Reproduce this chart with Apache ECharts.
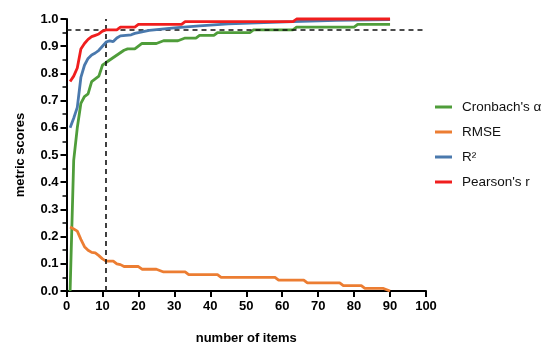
<!DOCTYPE html>
<html>
<head>
<meta charset="utf-8">
<script src="https://cdn.jsdelivr.net/npm/echarts@6/dist/echarts.min.js"></script>
<style>html,body{margin:0;padding:0;background:#fff;}#c{width:550px;height:354px;}</style>
</head>
<body>
<div id="c"></div>
<script>
// ---- data ----
const seriesNames = ["Cronbach's α", "RMSE", "R²", "Pearson's r"];

const alphaItems = [1,2,3,4,5,6,7,8,9,10,11,16,17,19,21,25,27,31,33,36,37,41,42,51,52,63,64,80,81,90];
const alphaVals  = [0.00,0.48,0.60,0.69,0.715,0.725,0.77,0.78,0.79,0.83,0.84,0.885,0.89,0.89,0.91,0.91,0.92,0.92,0.93,0.93,0.94,0.94,0.95,0.95,0.96,0.96,0.97,0.97,0.98,0.98];

const rmseItems = [1,2,3,4,5,6,7,8,9,10,11,12,13,14,15,16,20,21,25,27,33,34,42,43,58,59,66,67,76,77,82,83,88,90];
const rmseVals  = [0.235,0.228,0.22,0.19,0.163,0.15,0.142,0.14,0.13,0.118,0.11,0.11,0.11,0.10,0.097,0.09,0.09,0.08,0.08,0.07,0.07,0.06,0.06,0.05,0.05,0.04,0.04,0.03,0.03,0.02,0.02,0.01,0.01,0.00];

const r2Items = [1,2,3,4,5,6,7,8,9,10,11,12,13,14,15,18,19,21,23,30,37,45,55,63,75,90];
const r2Vals  = [0.60,0.635,0.675,0.785,0.83,0.855,0.868,0.875,0.885,0.90,0.915,0.92,0.917,0.93,0.938,0.942,0.947,0.953,0.958,0.967,0.975,0.982,0.987,0.99,0.995,0.998];

const pearsonItems = [1,2,3,4,5,6,7,8,9,10,11,14,15,19,20,32,33,63,64,90];
const pearsonVals  = [0.77,0.79,0.82,0.89,0.91,0.925,0.935,0.94,0.945,0.955,0.96,0.96,0.97,0.97,0.98,0.98,0.99,0.99,1.00,1.00];

const refItems = 11;     // vertical dashed reference
const refScore = 0.96;   // horizontal dashed reference

const xTicks = [0,100,10];      // min, max, interval
const yTicks = [0,1,0.1];

const colors = ['#4f9d3a', '#ec7d32', '#4a79ad', '#f01e1e'];

// ---- chart ----
const pairs = (xs, ys) => xs.map((x, i) => [x, ys[i]]);
const seriesData = [
  pairs(alphaItems, alphaVals),
  pairs(rmseItems, rmseVals),
  pairs(r2Items, r2Vals),
  pairs(pearsonItems, pearsonVals)
];

const font = 'Arial, "Liberation Sans", Helvetica, sans-serif';
const chart = echarts.init(document.getElementById('c'), null, {renderer: 'canvas'});

const series = seriesData.map((d, i) => ({
  name: seriesNames[i],
  type: 'line',
  data: d,
  showSymbol: false,
  symbol: 'none',
  clip: false,
  lineStyle: {width: 2.8, color: colors[i]},
  itemStyle: {color: colors[i]},
  z: 3 + i
}));

series.push({
  name: 'ref',
  type: 'line',
  data: [],
  silent: true,
  z: 2,
  markLine: {
    silent: true,
    symbol: 'none',
    label: {show: false},
    lineStyle: {color: '#111', type: [5, 4], width: 1.6},
    data: [{xAxis: refItems}, {yAxis: refScore}]
  }
});

chart.setOption({
  animation: false,
  backgroundColor: '#fff',
  color: colors,
  grid: {left: 66.5, right: 124, top: 19, bottom: 63, containLabel: false},
  legend: {
    data: seriesNames,
    orient: 'vertical',
    left: 430,
    top: 95,
    icon: 'rect',
    itemWidth: 17,
    itemHeight: 3,
    itemGap: 11,
    textStyle: {fontFamily: font, fontSize: 13.5, color: '#111', lineHeight: 14, padding: [0, 0, 0, 5]}
  },
  xAxis: {
    type: 'value',
    min: xTicks[0], max: xTicks[1], interval: xTicks[2],
    name: 'number of items',
    nameLocation: 'middle',
    nameGap: 41,
    nameTextStyle: {fontFamily: font, fontSize: 13, fontWeight: 'bold', color: '#000'},
    axisLine: {lineStyle: {color: '#000', width: 2}},
    axisTick: {show: true, length: 6, lineStyle: {color: '#000', width: 2}},
    axisLabel: {fontFamily: font, fontSize: 13, fontWeight: 'bold', color: '#000', margin: 9},
    splitLine: {show: false}
  },
  yAxis: {
    type: 'value',
    min: yTicks[0], max: yTicks[1], interval: yTicks[2],
    name: 'metric scores',
    nameLocation: 'middle',
    nameRotate: 90,
    nameGap: 40,
    nameTextStyle: {fontFamily: font, fontSize: 13, fontWeight: 'bold', color: '#000'},
    axisLine: {show: true, lineStyle: {color: '#000', width: 2}},
    axisTick: {show: true, length: 6, lineStyle: {color: '#000', width: 2}},
    minorTick: {show: true, splitNumber: 2, length: 4, lineStyle: {color: '#000', width: 1.5}},
    axisLabel: {fontFamily: font, fontSize: 13, fontWeight: 'bold', color: '#000', margin: 8,
      formatter: v => v.toFixed(1)},
    splitLine: {show: false}
  },
  series: series
});
</script>
</body>
</html>
